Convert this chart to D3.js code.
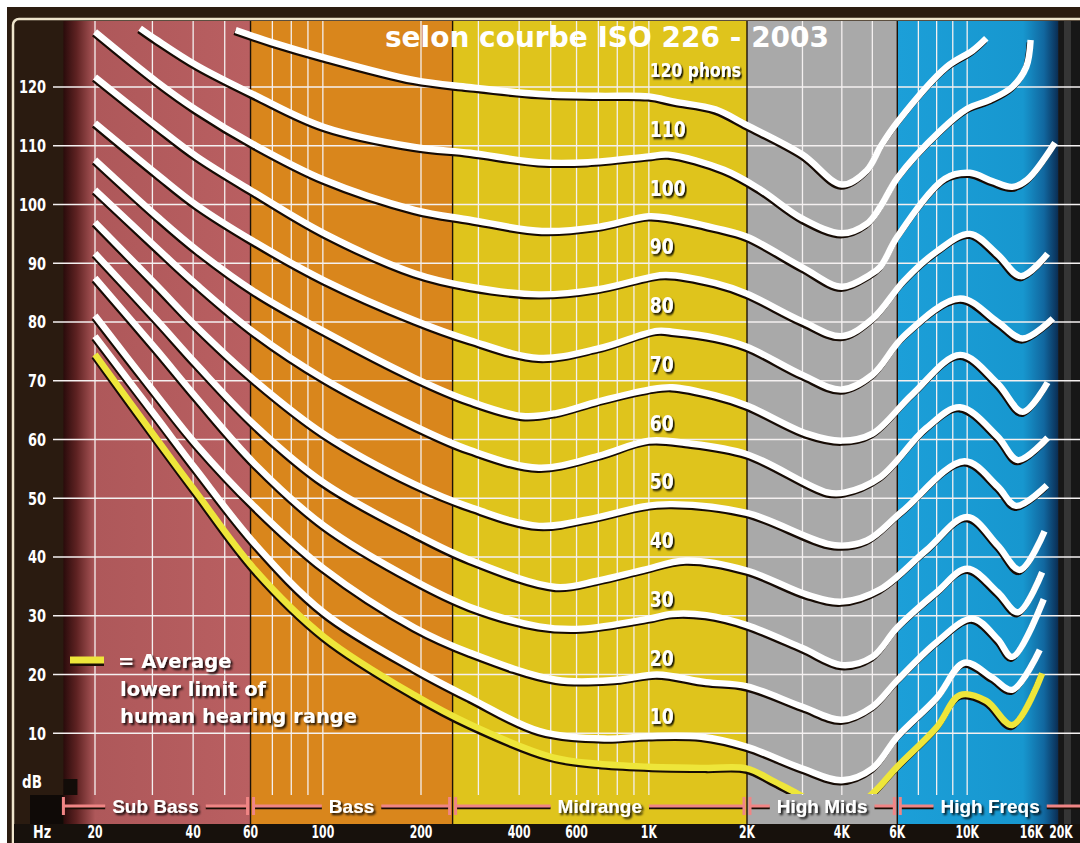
<!DOCTYPE html>
<html>
<head>
<meta charset="utf-8">
<script src="https://cdn.jsdelivr.net/npm/d3@7"></script>
<style>
  body { margin: 0; background: #fff; }
  svg { display: block; }
  .narrow { font-family: "DejaVu Sans", sans-serif; font-weight: bold; }
  .wide { font-family: "DejaVu Sans", sans-serif; font-weight: bold; }
  .band { font-family: "Liberation Sans", Arial, sans-serif; font-weight: bold; }
</style>
</head>
<body>
<svg id="chart" width="1080" height="843"></svg>
<script>
// axis ticks
const dbTicks = [10, 20, 30, 40, 50, 60, 70, 80, 90, 100, 110, 120];
const hzTicks = [20, 40, 60, 100, 200, 400, 600, 1000, 2000, 4000, 6000, 10000, 16000, 20000];
const hzLabels = ['20', '40', '60', '100', '200', '400', '600', '1K', '2K', '4K', '6K', '10K', '16K', '20K'];
const gridFreqs = [20, 30, 40, 50, 70, 80, 90, 100, 200, 300, 400, 500, 600, 700, 800, 900, 1000,
  3000, 4000, 5000, 7000, 8000, 9000, 10000];

// frequency bands
const bandNames = ['Sub Bass', 'Bass', 'Midrange', 'High Mids', 'High Freqs'];
const bandFrom = [16, 60, 250, 2000, 6000];
const bandTo = [60, 250, 2000, 6000, 19500];
const bandColors = ['url(#subGrad)', '#d9861c', '#dfc41c', '#a9a9a9', 'url(#blueGrad)'];

// equal loudness contours, [Hz, dB]
const phonLevels = [120, 110, 100, 90, 80, 70, 60, 50, 40, 30, 20, 10];
const phon120 = [[54, 129.7], [70, 127.6], [100, 125.1], [190, 121.2], [280, 120], [460, 118.8], [700, 118.5],
  [1000, 118.4], [1200, 117.5], [1600, 116.2], [2000, 113.5], [3000, 108.5], [4000, 103.4], [4800, 105.8],
  [5300, 109.8], [6000, 114], [8600, 123.4], [10400, 126.2], [11500, 128.3]];
const phon110 = [[27.5, 130], [31, 128], [41, 123.7], [62, 118.6], [101, 113.2], [191, 109.8], [283, 108.8],
  [460, 107.2], [650, 107.2], [1000, 108.2], [1150, 108.5], [1700, 105.9], [2200, 102.6], [3000, 97.6],
  [4000, 95.1], [4800, 96.7], [5300, 99.6], [6000, 104.5], [8200, 112.5], [10000, 116.3], [11800, 117.8],
  [13900, 120], [15400, 123.4], [15900, 128]];
const phon100 = [[20, 129.4], [31, 120.9], [41, 116.1], [62, 110.1], [101, 104.2], [191, 99.1], [283, 97.4],
  [470, 95.5], [700, 96.2], [1000, 98], [1180, 97.6], [1600, 96], [2000, 94.5], [3000, 89.3], [4000, 86],
  [4900, 88], [5300, 89.4], [6000, 94.5], [8500, 104.4], [10200, 105.4], [12000, 104], [13900, 103],
  [15500, 104.2], [19000, 110.5]];
const phon90 = [[20, 121.7], [31, 113.3], [41, 108.2], [62, 102], [101, 95.1], [191, 88.3], [283, 86],
  [460, 84.7], [700, 85.6], [1000, 87.6], [1130, 88], [1600, 86.6], [2000, 84.8], [3000, 80.1], [4000, 77.6],
  [5000, 80.5], [6300, 87], [8000, 92], [10200, 95], [12500, 91.5], [14800, 87.8], [18000, 91.6]];
const phon80 = [[20, 113.9], [31, 105.2], [41, 99.9], [62, 93.6], [101, 87.1], [191, 80.3], [283, 76.9],
  [460, 73.9], [700, 75.5], [1060, 78.5], [1200, 78.3], [1600, 77.3], [2000, 75.8], [3000, 71], [4000, 68.5],
  [5000, 71], [6300, 77.6], [9500, 84], [12500, 80], [15000, 77.2], [18700, 80.6]];
const phon70 = [[20, 107.6], [31, 98], [41, 92.3], [62, 85.1], [101, 78.4], [191, 70.5], [283, 66.5],
  [410, 64], [520, 64.5], [700, 66.5], [1000, 68.5], [1180, 68.9], [1600, 67.5], [2000, 65.8], [3100, 61],
  [4000, 59.8], [5000, 61], [6700, 67.7], [9500, 74.4], [12500, 69.5], [15000, 64.7], [18000, 69.7]];
const phon60 = [[20, 102.5], [31, 92.6], [41, 86.4], [62, 78.1], [101, 70.3], [191, 62.3], [283, 58.2],
  [460, 55.2], [700, 57.2], [1000, 59.8], [1300, 59.4], [2000, 57.5], [3600, 51], [4100, 51], [5300, 53.6],
  [7400, 61.9], [9500, 65.5], [12500, 60.5], [14500, 56.5], [18000, 60.3]];
const phon50 = [[20, 97], [31, 86.2], [41, 79.2], [62, 70], [101, 60.9], [191, 52.4], [283, 48.5], [460, 45.3],
  [700, 46.8], [960, 48.6], [1180, 49], [2000, 47.5], [3800, 42], [4800, 42.8], [6200, 47.7], [9800, 56.3],
  [12500, 52], [14300, 48.7], [17900, 52.2]];
const phon40 = [[20, 91.7], [31, 80.3], [41, 72.8], [62, 62.4], [101, 52.6], [191, 44], [283, 39.5], [520, 34.9],
  [700, 36], [960, 37.8], [1300, 39.4], [2000, 37.7], [3100, 33.6], [4000, 32.4], [5300, 34.5], [7400, 41.1],
  [10000, 46.8], [12500, 42], [14700, 37.8], [17600, 44.4]];
const phon30 = [[20, 87.5], [31, 75.2], [41, 67.1], [62, 55.8], [101, 45.3], [191, 36], [283, 31.5], [460, 28.2],
  [620, 27.8], [1000, 29.5], [1180, 30.3], [1500, 30.1], [2000, 28.4], [3000, 24.5], [4000, 21.6], [5000, 23],
  [6000, 28], [8000, 34], [10000, 38], [12500, 34], [14500, 30.6], [17300, 37.4]];
const phon20 = [[20, 81.1], [31, 67.5], [41, 59.1], [62, 48.5], [101, 38], [191, 28], [283, 23.7], [520, 19.1],
  [800, 19.1], [1060, 20], [1500, 18.7], [2000, 18], [3000, 14.5], [4000, 12.3], [5000, 14.5], [6000, 19],
  [8000, 25.5], [10400, 29.5], [12500, 26], [13900, 23], [17500, 32.8]];
const phon10 = [[20, 77.6], [31, 63.7], [41, 54.8], [62, 42.2], [101, 30.5], [191, 21], [283, 16], [460, 10.4],
  [730, 9.1], [1000, 9.5], [1450, 9.4], [2000, 7.7], [3000, 4], [4000, 2], [5000, 4], [6000, 9.4], [8000, 16],
  [9800, 22], [12000, 19.5], [13900, 17.4], [17000, 24.2]];
const hearingLimit = [[20, 74.5], [31, 60], [41, 50.9], [62, 37.8], [101, 26.4], [191, 16.5], [283, 11.5],
  [500, 6], [700, 4.8], [1000, 4.3], [1500, 4.1], [2000, 4], [2400, 2], [2900, -0.3], [4000, -4], [5000, -0.3],
  [6000, 4.3], [8000, 11], [9500, 16.5], [11500, 15.5], [13900, 11.4], [17300, 20.2]];
const contours = [phon120, phon110, phon100, phon90, phon80, phon70, phon60, phon50, phon40, phon30, phon20, phon10];

const titleText = 'selon courbe ISO 226 - 2003';
const legendLines = ['= Average', 'lower limit of', 'human hearing range'];

const W = 1080;
const H = 843;
const svg = d3.select('#chart');

const x = d3.scaleLog().domain([20, 2000, 20000]).range([95, 747, 1062]);
const y = d3.scaleLinear().domain([0, 120]).range([792, 87]);

const plotTop = 21;
const plotBottom = 795;
const bandBottom = 824;
const plotLeft = x(16);
const plotRight = x(19500);

// squeeze wide bold glyphs into a condensed look (scale around the anchor point)
function squeeze(sel, f) {
  sel.each(function () {
    const t = d3.select(this);
    const tx = +t.attr('x');
    const ty = +t.attr('y');
    t.attr('x', 0).attr('y', 0).attr('transform', `translate(${tx},${ty}) scale(${f},1)`);
  });
}

const defs = svg.append('defs');
const sub = defs.append('linearGradient').attr('id', 'subGrad');
[[0, '#2a0b0b'], [0.07, '#5e2222'], [0.17, '#ae585a'], [1, '#b95f61']].forEach((s) => {
  sub.append('stop').attr('offset', s[0]).attr('stop-color', s[1]);
});
const blue = defs.append('linearGradient').attr('id', 'blueGrad');
[[0, '#1c9fd8'], [0.78, '#1797cf'], [0.91, '#11679f'], [1, '#0a2c52']].forEach((s) => {
  blue.append('stop').attr('offset', s[0]).attr('stop-color', s[1]);
});
const shadow = defs.append('filter').attr('id', 'shadow')
  .attr('x', -0.2).attr('y', -0.3).attr('width', 1.4).attr('height', 1.6);
shadow.append('feDropShadow').attr('dx', 2).attr('dy', 2).attr('stdDeviation', 0.9)
  .attr('flood-color', '#000').attr('flood-opacity', 0.9);
defs.append('clipPath').attr('id', 'plotClip')
  .append('rect')
  .attr('x', plotLeft).attr('y', plotTop)
  .attr('width', plotRight - plotLeft).attr('height', 794 - plotTop);

// frame
svg.append('rect').attr('x', 7).attr('y', 7).attr('width', W).attr('height', H).attr('fill', '#2c1c10');
svg.append('rect').attr('x', 13).attr('y', 19).attr('width', W + 20).attr('height', H + 20)
  .attr('rx', 6).attr('fill', '#2a1b10').attr('stroke', '#efe5cc').attr('stroke-width', 2.5);

// bands
svg.append('g').selectAll('rect')
  .data(bandNames)
  .enter()
  .append('rect')
  .attr('x', (d, i) => x(bandFrom[i]))
  .attr('y', plotTop)
  .attr('width', (d, i) => x(bandTo[i]) - x(bandFrom[i]))
  .attr('height', bandBottom - plotTop)
  .attr('fill', (d, i) => bandColors[i]);

// right strip and bottom rows
svg.append('rect').attr('x', plotRight).attr('y', plotTop).attr('width', W - plotRight).attr('height', H - plotTop)
  .attr('fill', '#171717');
svg.append('rect').attr('x', 1064).attr('y', plotTop).attr('width', 7).attr('height', H - plotTop)
  .attr('fill', '#353535');
svg.append('rect').attr('x', 14).attr('y', bandBottom).attr('width', W).attr('height', H - bandBottom)
  .attr('fill', '#17110c');
svg.append('rect').attr('x', 30).attr('y', plotBottom).attr('width', plotLeft - 30).attr('height', bandBottom - plotBottom)
  .attr('fill', '#0f0a07');
svg.append('rect').attr('x', plotLeft).attr('y', 779).attr('width', 14).attr('height', 16)
  .attr('fill', '#120c08');

// grid
svg.append('g').selectAll('line')
  .data(dbTicks)
  .enter()
  .append('line')
  .attr('x1', 53).attr('x2', W)
  .attr('y1', d => y(d)).attr('y2', d => y(d))
  .attr('stroke', '#f4f0f0').attr('stroke-width', 1.3);
svg.append('g').selectAll('line')
  .data(gridFreqs)
  .enter()
  .append('line')
  .attr('x1', d => x(d)).attr('x2', d => x(d))
  .attr('y1', plotTop).attr('y2', plotBottom)
  .attr('stroke', '#f4f0f0').attr('stroke-width', 1.3);
svg.append('g').selectAll('line')
  .data(bandFrom.slice(1))
  .enter()
  .append('line')
  .attr('x1', d => x(d)).attr('x2', d => x(d))
  .attr('y1', plotTop).attr('y2', bandBottom)
  .attr('stroke', '#1d1208').attr('stroke-width', 1.4);

// y labels
const yLabels = svg.append('g').selectAll('text')
  .data(dbTicks)
  .enter()
  .append('text')
  .attr('class', 'narrow')
  .attr('x', 46)
  .attr('y', d => y(d))
  .attr('dy', '0.36em')
  .attr('text-anchor', 'end')
  .attr('font-size', 18)
  .attr('fill', '#fff')
  .text(d => d);
squeeze(yLabels, 0.72);
squeeze(svg.append('text').attr('class', 'narrow').attr('x', 22).attr('y', 788)
  .attr('font-size', 18).attr('fill', '#fff').text('dB'), 0.75);

// curves
const line = d3.line()
  .x(d => x(d[0]))
  .y(d => y(d[1]))
  .curve(d3.curveCatmullRom.alpha(0.5));
const curves = svg.append('g').attr('clip-path', 'url(#plotClip)');
const allCurves = contours.concat([hearingLimit]);
allCurves.forEach((c, i) => {
  const isLimit = i === contours.length;
  curves.append('path')
    .attr('d', line(c))
    .attr('transform', 'translate(-1.2,2.4)')
    .attr('fill', 'none')
    .attr('stroke', '#160b04')
    .attr('stroke-width', 5.6);
  curves.append('path')
    .attr('d', line(c))
    .attr('fill', 'none')
    .attr('stroke', isLimit ? '#eee63a' : '#ffffff')
    .attr('stroke-width', 6.4);
});

// phon labels
const phonText = svg.append('g').selectAll('text')
  .data(phonLevels)
  .enter()
  .append('text')
  .attr('class', 'narrow')
  .attr('x', x(1000) + 1)
  .attr('y', d => y(d + 2.8))
  .attr('dy', '0.36em')
  .attr('font-size', d => (d === 120 ? 19 : 21))
  .attr('fill', '#fff')
  .attr('filter', 'url(#shadow)')
  .text(d => (d === 120 ? '120 phons' : d));
squeeze(phonText, 0.82);

// title
svg.append('text')
  .attr('class', 'wide')
  .attr('x', 607)
  .attr('y', 47)
  .attr('text-anchor', 'middle')
  .attr('font-size', 28)
  .attr('fill', '#fff')
  .text(titleText);

// legend
svg.append('line').attr('x1', 70).attr('x2', 104).attr('y1', 662.5).attr('y2', 662.5)
  .attr('stroke', '#1a0d05').attr('stroke-width', 7);
svg.append('line').attr('x1', 70).attr('x2', 104).attr('y1', 660).attr('y2', 660)
  .attr('stroke', '#eee63a').attr('stroke-width', 7);
svg.append('g').selectAll('text')
  .data(legendLines)
  .enter()
  .append('text')
  .attr('class', 'wide')
  .attr('x', (d, i) => (i === 0 ? 118 : 120))
  .attr('y', (d, i) => 668 + i * 27.5)
  .attr('font-size', 19.5)
  .attr('fill', '#fff')
  .attr('filter', 'url(#shadow)')
  .text(d => d);

// band brackets
const bandRow = 806;
const brackets = svg.append('g');
bandNames.forEach((name, i) => {
  const left = i === 0 ? plotLeft : x(bandFrom[i]) + 3;
  const right = i === bandNames.length - 1 ? W : x(bandTo[i]) - 3;
  const mid = (left + right) / 2;
  const label = brackets.append('text')
    .attr('class', 'band')
    .attr('x', mid)
    .attr('y', bandRow)
    .attr('dy', '0.36em')
    .attr('text-anchor', 'middle')
    .attr('font-size', 19)
    .attr('fill', '#fff')
    .attr('filter', 'url(#shadow)')
    .text(name);
  const half = label.node().getComputedTextLength() / 2 + 7;
  [[left, mid - half], [mid + half, right]].forEach((seg) => {
    brackets.append('line')
      .attr('x1', seg[0]).attr('x2', seg[1])
      .attr('y1', bandRow + 2).attr('y2', bandRow + 2)
      .attr('stroke', '#1a0d05').attr('stroke-width', 2.5);
    brackets.append('line')
      .attr('x1', seg[0]).attr('x2', seg[1])
      .attr('y1', bandRow).attr('y2', bandRow)
      .attr('stroke', '#f08585').attr('stroke-width', 3);
  });
  [left, right].forEach((cx, k) => {
    if (i === bandNames.length - 1 && k === 1) return;
    brackets.append('rect')
      .attr('x', cx - 1.5).attr('y', bandRow - 9)
      .attr('width', 3).attr('height', 18)
      .attr('fill', '#f08585');
  });
  label.raise();
});

// Hz labels
const hzText = svg.append('g').selectAll('text')
  .data(hzTicks)
  .enter()
  .append('text')
  .attr('class', 'narrow')
  .attr('x', (d, i) => (i === hzTicks.length - 1 ? x(d) - 1 : x(d)))
  .attr('y', 838)
  .attr('text-anchor', 'middle')
  .attr('font-size', 17)
  .attr('fill', '#fff')
  .text((d, i) => hzLabels[i]);
squeeze(hzText, 0.64);
squeeze(svg.append('text').attr('class', 'narrow').attr('x', 33).attr('y', 838)
  .attr('font-size', 17).attr('fill', '#fff').text('Hz'), 0.75);
</script>
</body>
</html>
